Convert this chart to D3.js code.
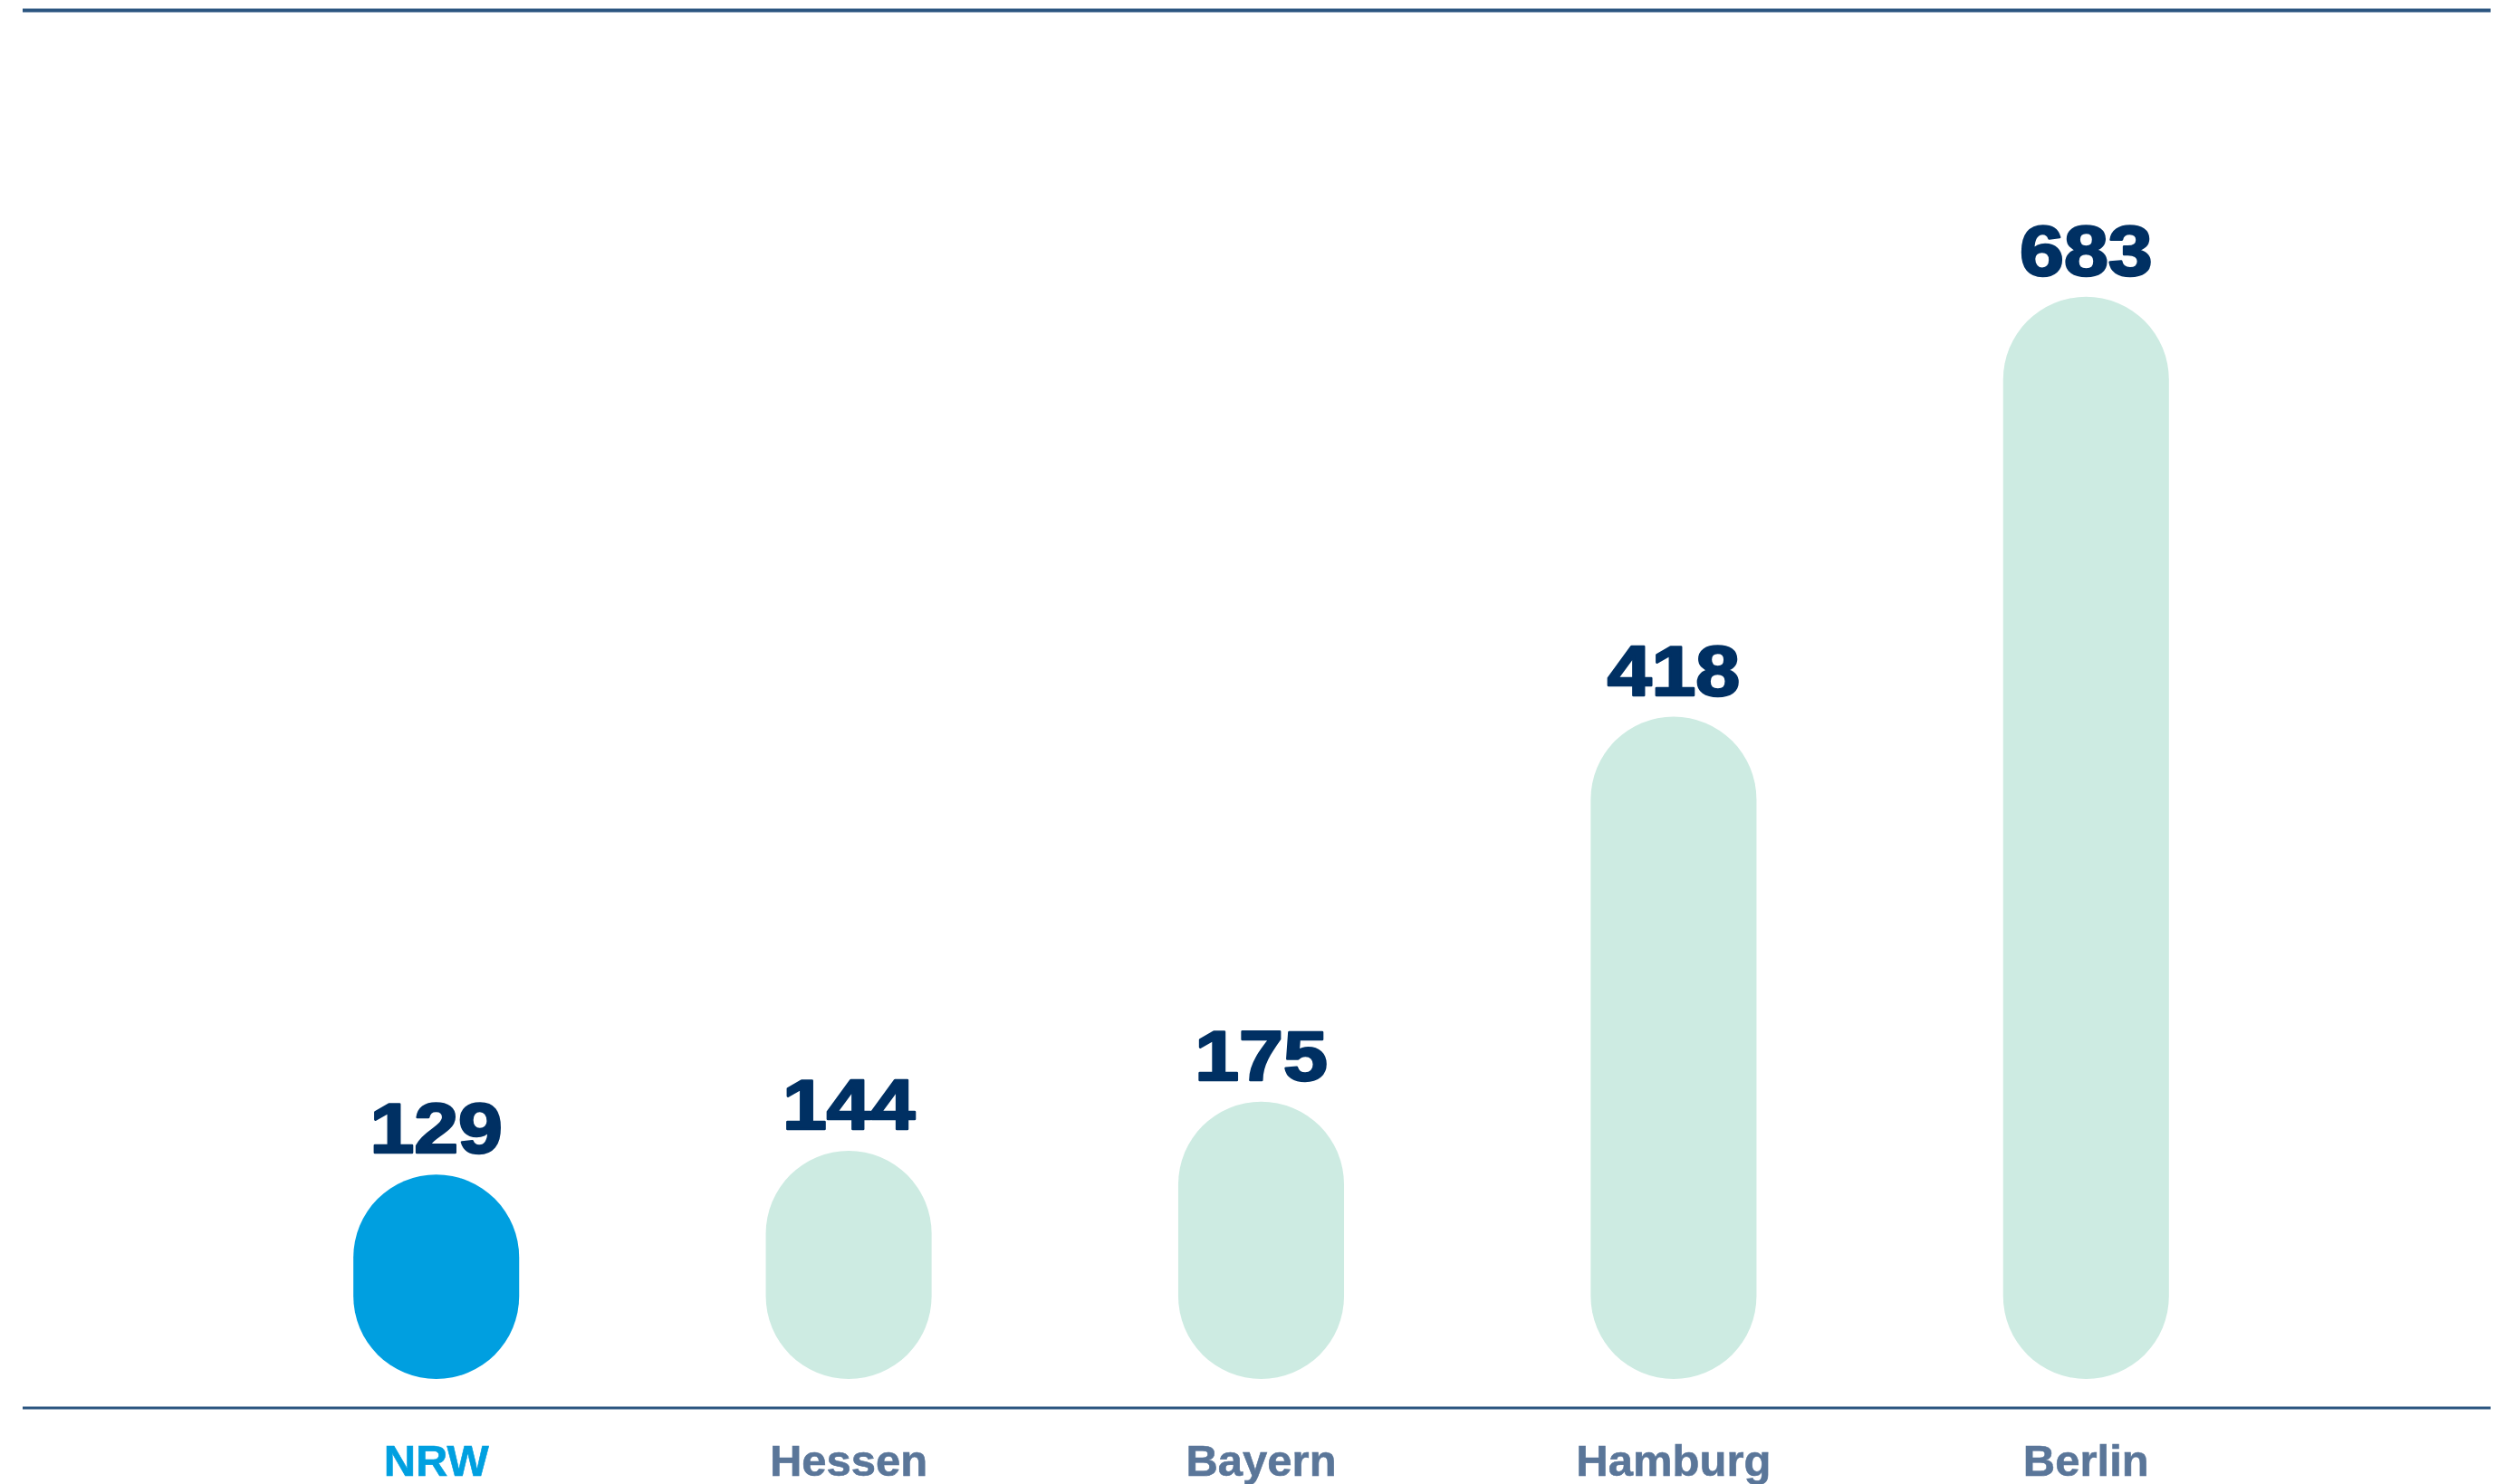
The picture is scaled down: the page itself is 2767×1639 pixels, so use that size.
<!DOCTYPE html>
<html>
<head>
<meta charset="utf-8">
<script src="https://cdn.jsdelivr.net/npm/d3@7"></script>
<style>
  html, body { margin: 0; padding: 0; background: #ffffff; }
  svg { display: block; }
</style>
</head>
<body>
<div id="chart"></div>
<script>
// Values per federal state
const categories = ["NRW", "Hessen", "Bayern", "Hamburg", "Berlin"];
const values = [129, 144, 175, 418, 683];
const highlighted = ["NRW"];

const W = 2767, H = 1639;
const baseY = 1523;      // bottom of the bars
const axisY = 1555;      // baseline rule

const svg = d3.select("#chart").append("svg")
  .attr("width", W).attr("height", H);

const x = d3.scaleBand()
  .domain(categories)
  .range([254, 2531])
  .paddingInner(0.598)
  .paddingOuter(0.299);

const y = d3.scaleLinear()
  .domain([0, 700])
  .range([baseY, baseY - 700 * 1.75]);

const data = categories.map((c, i) => ({ cat: c, value: values[i] }));

// top and bottom rules
svg.append("line")
  .attr("x1", 25).attr("x2", 2750)
  .attr("y1", 11.5).attr("y2", 11.5)
  .attr("stroke", "#2b5580").attr("stroke-width", 4);

svg.append("line")
  .attr("x1", 25).attr("x2", 2750)
  .attr("y1", axisY).attr("y2", axisY)
  .attr("stroke", "#2b5580").attr("stroke-width", 3);

// pill-shaped bars
const bw = x.bandwidth();
svg.append("g").selectAll("rect")
  .data(data)
  .join("rect")
  .attr("x", d => x(d.cat))
  .attr("y", d => y(d.value))
  .attr("width", bw)
  .attr("height", d => baseY - y(d.value))
  .attr("rx", bw / 2)
  .attr("ry", bw / 2)
  .attr("fill", d => highlighted.includes(d.cat) ? "#009fe0" : "#cdebe2");

// value labels above the bars (heavy, slightly widened figures)
svg.append("g").selectAll("text")
  .data(data)
  .join("text")
  .attr("transform", d => `translate(${x(d.cat) + bw / 2}, ${y(d.value) - 24}) scale(1.14, 1)`)
  .attr("text-anchor", "middle")
  .attr("font-family", "'Liberation Sans', Arial, sans-serif")
  .attr("font-weight", "bold")
  .attr("font-size", 77)
  .attr("fill", "#003063")
  .attr("stroke", "#003063")
  .attr("stroke-width", 2.5)
  .attr("stroke-linejoin", "round")
  .text(d => d.value);

// category axis labels
const xAxis = d3.axisBottom(x).tickSize(0).tickPadding(0);
const ax = svg.append("g")
  .attr("transform", `translate(0, ${axisY})`)
  .call(xAxis);
ax.select(".domain").remove();
ax.selectAll("text")
  .attr("dy", null)
  .attr("y", 75)
  .attr("font-family", "'Liberation Sans', Arial, sans-serif")
  .attr("font-weight", "bold")
  .attr("font-size", 49)
  .attr("stroke-width", 0.6)
  .attr("stroke", d => highlighted.includes(d) ? "#00a0e0" : "#5a7699")
  .attr("fill", d => highlighted.includes(d) ? "#00a0e0" : "#5a7699");
</script>
</body>
</html>
